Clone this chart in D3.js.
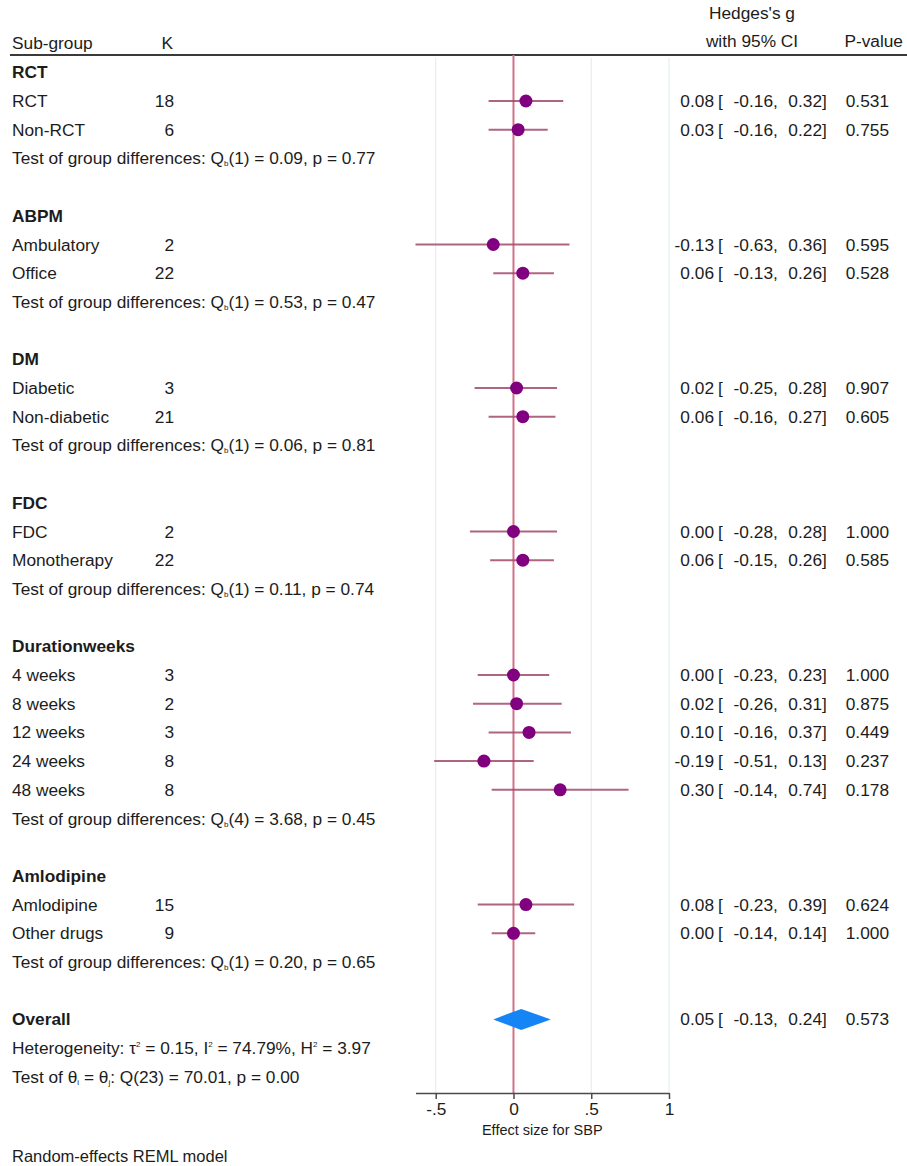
<!DOCTYPE html>
<html>
<head>
<meta charset="utf-8">
<script src="https://cdn.jsdelivr.net/npm/d3@7"></script>
<style>
  html, body { margin: 0; padding: 0; background: #fff; }
  svg { display: block; font-family: "Liberation Sans", Arial, sans-serif; }
</style>
</head>
<body>
<svg id="chart" width="907" height="1166"></svg>
<script>
// Sub-group meta-analysis of SBP effect sizes (Hedges's g, 95% CI)
const groupNames = ["RCT", "ABPM", "DM", "FDC", "Durationweeks", "Amlodipine"];
const subgroups = ["RCT", "Non-RCT", "Ambulatory", "Office", "Diabetic", "Non-diabetic",
  "FDC", "Monotherapy", "4 weeks", "8 weeks", "12 weeks", "24 weeks", "48 weeks",
  "Amlodipine", "Other drugs"];
const groupOf = [0, 0, 1, 1, 2, 2, 3, 3, 4, 4, 4, 4, 4, 5, 5];
const kCounts = [18, 6, 2, 22, 3, 21, 2, 22, 3, 2, 3, 8, 8, 15, 9];
const effects = [0.08, 0.03, -0.13, 0.06, 0.02, 0.06, 0.00, 0.06, 0.00, 0.02, 0.10, -0.19, 0.30, 0.08, 0.00];
const ciLower = [-0.16, -0.16, -0.63, -0.13, -0.25, -0.16, -0.28, -0.15, -0.23, -0.26, -0.16, -0.51, -0.14, -0.23, -0.14];
const ciUpper = [0.32, 0.22, 0.36, 0.26, 0.28, 0.27, 0.28, 0.26, 0.23, 0.31, 0.37, 0.13, 0.74, 0.39, 0.14];
const pValues = [0.531, 0.755, 0.595, 0.528, 0.907, 0.605, 1.000, 0.585, 1.000, 0.875, 0.449, 0.237, 0.178, 0.624, 1.000];

// Between-group tests per group
const qbDf = [1, 1, 1, 1, 4, 1];
const qbValues = [0.09, 0.53, 0.06, 0.11, 3.68, 0.20];
const qbP = [0.77, 0.47, 0.81, 0.74, 0.45, 0.65];

// Overall pooled estimate: [estimate, lower, upper], p-value
const overallEffect = [0.05, -0.13, 0.24];
const overallP = 0.573;
const heterogeneity = { tau2: 0.15, i2: 74.79, h2: 3.97 };
const homogeneityTest = { df: 23, q: 70.01, p: 0.00 };

// Axis
const xTicks = [-0.5, 0, 0.5, 1];
const xTickLabels = ["-.5", "0", ".5", "1"];

const svg = d3.select("#chart");
const FS = 17.3;
const textColor = "#1c1c1c";
const locale = d3.formatLocale({ decimal: ".", thousands: ",", grouping: [3], currency: ["", ""], minus: "-" });
const f2 = locale.format(".2f");
const f3 = locale.format(".3f");

const x = d3.scaleLinear().domain([-0.63, 1]).range([415.5, 669]);

// Row layout: group header, subgroups, test line, blank spacer; then overall block
const rows = [];
groupNames.forEach((g, gi) => {
  rows.push({ type: "header", label: g });
  subgroups.forEach((s, i) => { if (groupOf[i] === gi) rows.push({ type: "study", i }); });
  rows.push({ type: "test", gi });
  rows.push({ type: "blank" });
});
rows.push({ type: "overall" });
rows.push({ type: "het" });
rows.push({ type: "homog" });

const y = d3.scaleLinear().domain([0, 1]).range([72.3, 72.3 + 28.7]);
const axisY = 1093;
const plotTop = 58;

// Grid lines
svg.append("g").selectAll("line")
  .data(xTicks.filter(t => t !== 0))
  .join("line")
  .attr("x1", d => x(d)).attr("x2", d => x(d))
  .attr("y1", plotTop).attr("y2", axisY)
  .attr("stroke", "#e5edf1").attr("stroke-width", 1.2);

// Column headers
const hdr = svg.append("g").attr("fill", textColor).attr("font-size", FS);
hdr.append("text").attr("x", 12).attr("y", 49).text("Sub-group");
hdr.append("text").attr("x", 173).attr("y", 49).attr("text-anchor", "end").text("K");
hdr.append("text").attr("x", 752).attr("y", 19).attr("text-anchor", "middle").text("Hedges's g");
hdr.append("text").attr("x", 752).attr("y", 47).attr("text-anchor", "middle").text("with 95% CI");
hdr.append("text").attr("x", 903).attr("y", 47).attr("text-anchor", "end").text("P-value");
svg.append("line").attr("x1", 10).attr("x2", 907).attr("y1", 55).attr("y2", 55)
  .attr("stroke", "#3a3a3a").attr("stroke-width", 2);

// Null-effect reference line
svg.append("line")
  .attr("x1", x(0)).attr("x2", x(0)).attr("y1", 55).attr("y2", axisY)
  .attr("stroke", "#d4718a").attr("stroke-width", 2);

const body = svg.append("g").attr("font-size", FS).attr("fill", textColor);

function ciText(row, est, lo, hi, p) {
  const yy = y(row) + 6;
  body.append("text").attr("x", 714).attr("y", yy).attr("text-anchor", "end").text(f2(est));
  body.append("text").attr("x", 718).attr("y", yy).text("[");
  body.append("text").attr("x", 773).attr("y", yy).attr("text-anchor", "end").text(f2(lo));
  body.append("text").attr("x", 773).attr("y", yy).text(",");
  body.append("text").attr("x", 822).attr("y", yy).attr("text-anchor", "end").text(f2(hi));
  body.append("text").attr("x", 822).attr("y", yy).text("]");
  body.append("text").attr("x", 889).attr("y", yy).attr("text-anchor", "end").text(f3(p));
}

rows.forEach((r, ri) => {
  const cy = y(ri);
  const by = cy + 6;
  if (r.type === "header") {
    body.append("text").attr("x", 12).attr("y", by).attr("font-weight", "bold").text(r.label);
  } else if (r.type === "study") {
    const i = r.i;
    body.append("text").attr("x", 12).attr("y", by).text(subgroups[i]);
    body.append("text").attr("x", 174).attr("y", by).attr("text-anchor", "end").text(kCounts[i]);
    svg.append("line")
      .attr("x1", x(ciLower[i])).attr("x2", x(ciUpper[i]))
      .attr("y1", cy).attr("y2", cy)
      .attr("stroke", "#a04a6c").attr("stroke-opacity", 0.85).attr("stroke-width", 2);
    svg.append("circle")
      .attr("cx", x(effects[i])).attr("cy", cy).attr("r", 6.5)
      .attr("fill", "#800080");
    ciText(ri, effects[i], ciLower[i], ciUpper[i], pValues[i]);
  } else if (r.type === "test") {
    const gi = r.gi;
    const t = body.append("text").attr("x", 12).attr("y", by);
    t.append("tspan").text("Test of group differences: Q");
    t.append("tspan").attr("font-size", 8).attr("dy", 2).text("b");
    t.append("tspan").attr("dy", -2).text(`(${qbDf[gi]}) = ${f2(qbValues[gi])}, p = ${f2(qbP[gi])}`);
  } else if (r.type === "overall") {
    body.append("text").attr("x", 12).attr("y", by).attr("font-weight", "bold").text("Overall");
    const [est, lo, hi] = overallEffect;
    const h = 10.5;
    svg.append("path")
      .attr("d", `M${x(lo)},${cy}L${x(est)},${cy - h}L${x(hi)},${cy}L${x(est)},${cy + h}Z`)
      .attr("fill", "#1585f5");
    ciText(ri, est, lo, hi, overallP);
  } else if (r.type === "het") {
    const t = body.append("text").attr("x", 12).attr("y", by);
    t.append("tspan").text("Heterogeneity: τ");
    t.append("tspan").attr("font-size", 8).attr("dy", -7).text("2");
    t.append("tspan").attr("dy", 7).text(` = ${f2(heterogeneity.tau2)}, I`);
    t.append("tspan").attr("font-size", 8).attr("dy", -7).text("2");
    t.append("tspan").attr("dy", 7).text(` = ${f2(heterogeneity.i2)}%, H`);
    t.append("tspan").attr("font-size", 8).attr("dy", -7).text("2");
    t.append("tspan").attr("dy", 7).text(` = ${f2(heterogeneity.h2)}`);
  } else if (r.type === "homog") {
    const t = body.append("text").attr("x", 12).attr("y", by);
    t.append("tspan").text("Test of θ");
    t.append("tspan").attr("font-size", 8).attr("dy", 2).text("i");
    t.append("tspan").attr("dy", -2).text(" = θ");
    t.append("tspan").attr("font-size", 8).attr("dy", 2).text("j");
    t.append("tspan").attr("dy", -2).text(`: Q(${homogeneityTest.df}) = ${f2(homogeneityTest.q)}, p = ${f2(homogeneityTest.p)}`);
  }
});

// X axis
const axis = d3.axisBottom(x)
  .tickValues(xTicks)
  .tickFormat((d, i) => xTickLabels[i])
  .tickSize(6).tickSizeOuter(0).tickPadding(4);
const ax = svg.append("g").attr("transform", `translate(0,${axisY})`).call(axis);
ax.select(".domain").attr("stroke", "#4a4a4a").attr("stroke-width", 1.5);
ax.selectAll(".tick line").attr("stroke", "#4a4a4a").attr("stroke-width", 1.5);
ax.selectAll(".tick text").attr("font-size", FS).attr("fill", textColor)
  .attr("font-family", "Liberation Sans, Arial, sans-serif");

svg.append("text").attr("x", (x.range()[0] + x.range()[1]) / 2).attr("y", 1135)
  .attr("text-anchor", "middle").attr("font-size", 14.5).attr("fill", textColor)
  .text("Effect size for SBP");

svg.append("text").attr("x", 12).attr("y", 1162)
  .attr("font-size", 16.5).attr("fill", textColor)
  .text("Random-effects REML model");
</script>
</body>
</html>
